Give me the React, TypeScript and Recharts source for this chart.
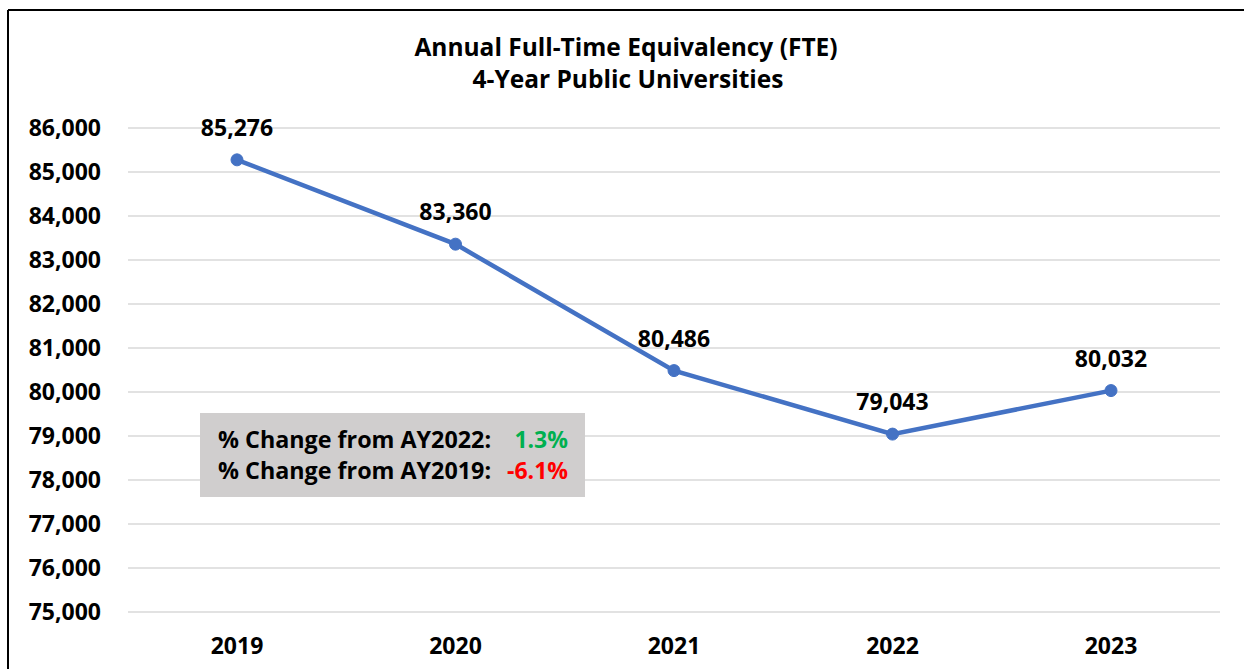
import React from "react";
import { LineChart, Line, XAxis, YAxis, CartesianGrid, LabelList } from "recharts";

const years = ["2019", "2020", "2021", "2022", "2023"];
const fte = [85276, 83360, 80486, 79043, 80032];
const yTicks = [75000, 76000, 77000, 78000, 79000, 80000, 81000, 82000, 83000, 84000, 85000, 86000];
const titleLines = ["Annual Full-Time Equivalency (FTE)", "4-Year Public Universities"];
const changeLabels = ["% Change from AY2022:", "% Change from AY2019:"];
const changeValues = ["1.3%", "-6.1%"];
const changeColors = ["#00B050", "#FF0000"];

const data = years.map((y, i) => ({ year: y, fte: fte[i] }));

const FONT = "'Open Sans', 'Liberation Sans', sans-serif";
const fmt = (v: number) => v.toLocaleString("en-US");
const labelStyle = { fill: "#000", fontSize: 23, fontWeight: 700, fontFamily: FONT };

export default function App() {
  return (
    <div style={{ position: "fixed", left: 0, top: 0, width: 1244, height: 669, background: "#fff", overflow: "hidden" }}>
      <svg width={1244} height={669} style={{ position: "absolute", left: 0, top: 0 }}>
        <line x1={8} y1={10} x2={1244} y2={10} stroke="#000" strokeWidth={2} />
        <line x1={8} y1={10} x2={8} y2={669} stroke="#000" strokeWidth={2} />
      </svg>
      <div style={{ position: "absolute", left: 0, top: 0 }}>
        <LineChart
          width={1244}
          height={669}
          data={data}
          margin={{ top: 128, right: 24, bottom: 17, left: 0 }}
        >
          <CartesianGrid horizontal vertical={false} stroke="#D9D9D9" strokeWidth={1.5} />
          <XAxis
            dataKey="year"
            axisLine={false}
            tickLine={false}
            tickSize={0}
            tickMargin={26}
            height={40}
            padding={{ left: 109, right: 109 }}
            tick={labelStyle}
          />
          <YAxis
            domain={[75000, 86000]}
            ticks={yTicks}
            interval={0}
            width={128}
            axisLine={false}
            tickLine={false}
            tickSize={0}
            tickMargin={27}
            tickFormatter={fmt}
            tick={labelStyle}
          />
          <Line
            dataKey="fte"
            stroke="#4472C4"
            strokeWidth={4.5}
            dot={{ r: 6, fill: "#4472C4", stroke: "#4472C4", strokeWidth: 1 }}
            isAnimationActive={false}
          >
            <LabelList
              dataKey="fte"
              position="top"
              offset={24}
              formatter={(v: any) => fmt(Number(v))}
              style={labelStyle}
            />
          </Line>
        </LineChart>
      </div>
      <svg width={1244} height={669} style={{ position: "absolute", left: 0, top: 0, pointerEvents: "none" }}>
        <text x={626} y={56} textAnchor="middle" fontFamily={FONT} fontSize={24.5} fontWeight={700} fill="#000">
          {titleLines[0]}
        </text>
        <text x={628} y={88} textAnchor="middle" fontFamily={FONT} fontSize={24.5} fontWeight={700} fill="#000">
          {titleLines[1]}
        </text>
        <rect x={200} y={413} width={385} height={84} fill="#D0CECE" />
        {changeLabels.map((lab, i) => (
          <g key={lab}>
            <text x={218} y={448 + i * 31} fontFamily={FONT} fontSize={23.3} fontWeight={700} fill="#000">
              {lab}
            </text>
            <text x={568} y={448 + i * 31} textAnchor="end" fontFamily={FONT} fontSize={23} fontWeight={700} fill={changeColors[i]}>
              {changeValues[i]}
            </text>
          </g>
        ))}
      </svg>
    </div>
  );
}
